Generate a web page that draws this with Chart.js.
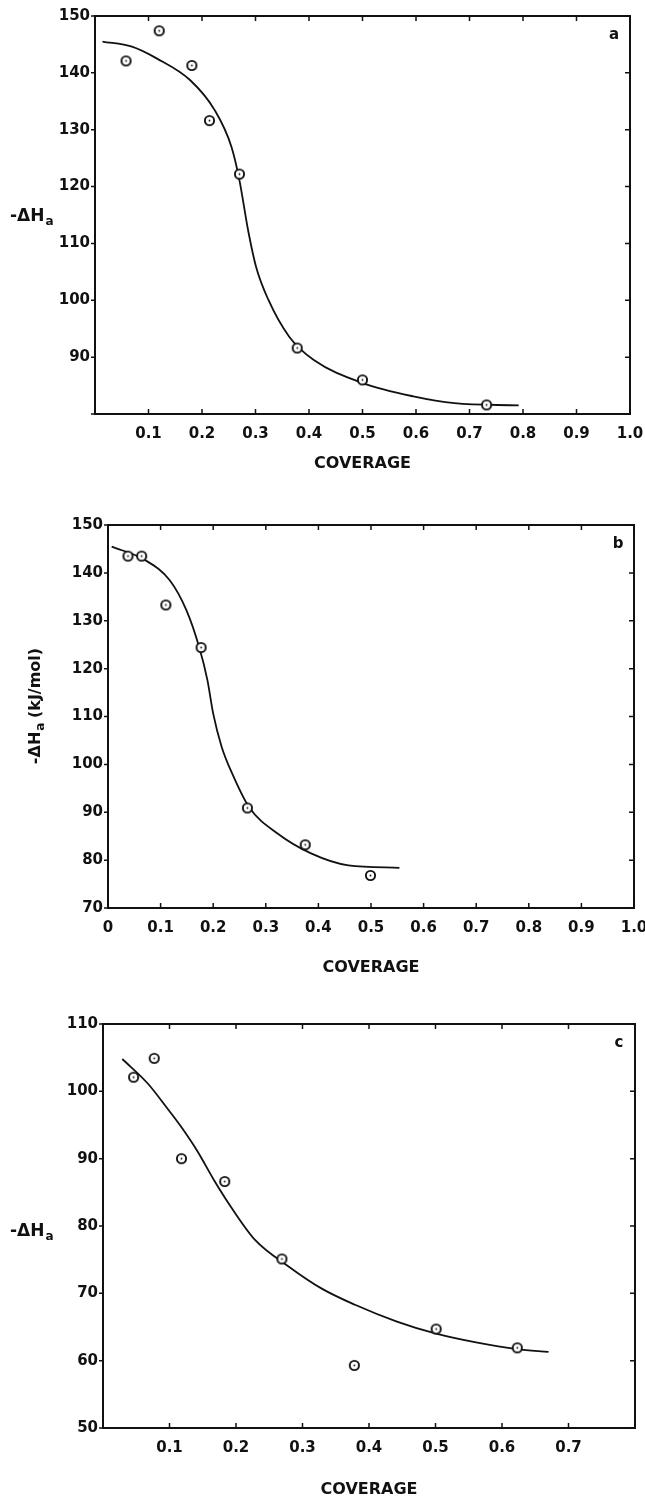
<!DOCTYPE html>
<html>
<head>
<meta charset="utf-8">
<script src="https://cdn.jsdelivr.net/npm/chart.js@4.4.0/dist/chart.umd.min.js"></script>
<style>
  body { margin: 0; background: #fff; }
  canvas { position: absolute; left: 0; }
</style>
</head>
<body>
<canvas id="chartA" width="645" height="480" style="top:0px"></canvas>
<canvas id="chartB" width="645" height="500" style="top:480px"></canvas>
<canvas id="chartC" width="645" height="521" style="top:980px"></canvas>
<script>
// panel a
const coverageA = [0.058, 0.120, 0.181, 0.214, 0.270, 0.378, 0.500, 0.732];
const enthalpyA = [142.1, 147.4, 141.3, 131.6, 122.2, 91.6, 86.0, 81.6];
const fitCoverageA = [0.014, 0.069, 0.116, 0.178, 0.224, 0.255, 0.270, 0.286, 0.301, 0.324, 0.363, 0.409, 0.502, 0.595, 0.672, 0.792];
const fitEnthalpyA = [145.5, 144.6, 142.5, 138.7, 133.4, 127.0, 121.1, 112.4, 105.9, 100.1, 93.6, 89.5, 85.4, 83.1, 81.9, 81.5];
const xLabelsA = ["", "0.1", "0.2", "0.3", "0.4", "0.5", "0.6", "0.7", "0.8", "0.9", "1.0"];
const yLabelsA = ["", "90", "100", "110", "120", "130", "140", "150"];

// panel b
const coverageB = [0.038, 0.064, 0.110, 0.177, 0.265, 0.375, 0.499];
const enthalpyB = [143.5, 143.5, 133.3, 124.4, 90.9, 83.2, 76.8];
const fitCoverageB = [0.007, 0.070, 0.117, 0.149, 0.173, 0.189, 0.200, 0.216, 0.236, 0.268, 0.323, 0.386, 0.457, 0.554];
const fitEnthalpyB = [145.5, 142.7, 138.5, 132.2, 124.6, 117.6, 110.6, 103.7, 98.1, 91.1, 85.5, 81.4, 78.9, 78.4];
const xLabelsB = ["0", "0.1", "0.2", "0.3", "0.4", "0.5", "0.6", "0.7", "0.8", "0.9", "1.0"];
const yLabelsB = ["70", "80", "90", "100", "110", "120", "130", "140", "150"];

// panel c
const coverageC = [0.046, 0.077, 0.118, 0.183, 0.269, 0.378, 0.501, 0.623];
const enthalpyC = [102.1, 104.9, 90.0, 86.6, 75.1, 59.3, 64.7, 61.9];
const fitCoverageC = [0.029, 0.067, 0.098, 0.117, 0.142, 0.167, 0.192, 0.229, 0.279, 0.329, 0.379, 0.442, 0.501, 0.561, 0.623, 0.670];
const fitEnthalpyC = [104.8, 101.2, 97.3, 94.8, 91.1, 86.8, 82.9, 77.9, 74.0, 70.7, 68.3, 65.8, 64.0, 62.7, 61.7, 61.3];
const xLabelsC = ["", "0.1", "0.2", "0.3", "0.4", "0.5", "0.6", "0.7", ""];
const yLabelsC = ["50", "60", "70", "80", "90", "100", "110"];

Chart.defaults.font.family = "'DejaVu Sans', sans-serif";
Chart.defaults.font.weight = "bold";
Chart.defaults.font.size = 15;
Chart.defaults.color = "#111";

// open circle with a dot in the middle
function makeMarker() {
  const c = document.createElement("canvas");
  c.width = 13; c.height = 13;
  const g = c.getContext("2d");
  g.fillStyle = "#fff";
  g.strokeStyle = "#111";
  g.lineWidth = 1.9;
  g.beginPath(); g.arc(6.5, 6.5, 4.6, 0, Math.PI * 2); g.fill(); g.stroke();
  g.fillStyle = "#111";
  g.beginPath(); g.arc(6.5, 6.5, 0.9, 0, Math.PI * 2); g.fill();
  return c;
}
const marker = makeMarker();

function toPoints(xs, ys) {
  return xs.map((x, i) => ({ x: x, y: ys[i] }));
}

// frame, inward ticks, axis titles and panel letter
const framePlugin = {
  id: "frame",
  afterDraw(chart, args, opts) {
    const ctx = chart.ctx;
    const a = chart.chartArea;
    const xs = chart.scales.x, ys = chart.scales.y;
    ctx.save();
    ctx.strokeStyle = "#111";
    ctx.lineWidth = 2;
    ctx.strokeRect(a.left, a.top, a.right - a.left, a.bottom - a.top);
    ctx.lineWidth = 1.5;
    ctx.beginPath();
    xs.ticks.forEach(t => {
      const px = xs.getPixelForValue(t.value);
      ctx.moveTo(px, a.bottom); ctx.lineTo(px, a.bottom - 5);
      ctx.moveTo(px, a.top); ctx.lineTo(px, a.top + 5);
    });
    ys.ticks.forEach(t => {
      const py = ys.getPixelForValue(t.value);
      ctx.moveTo(a.left, py); ctx.lineTo(a.left - 4, py);
      ctx.moveTo(a.right, py); ctx.lineTo(a.right - 5, py);
    });
    ctx.stroke();

    ctx.fillStyle = "#111";
    // panel letter
    ctx.font = "bold 15px 'DejaVu Sans'";
    ctx.textAlign = "center";
    ctx.textBaseline = "middle";
    ctx.fillText(opts.letter, a.right - 16, a.top + 19);

    // x title
    ctx.font = "bold 16px 'DejaVu Sans'";
    ctx.fillText("COVERAGE", (a.left + a.right) / 2, opts.xTitleY);

    // y title: -ΔH with subscript a
    ctx.save();
    ctx.translate(opts.yTitleX, opts.yTitleY);
    if (opts.rotate) ctx.rotate(-Math.PI / 2);
    ctx.textAlign = "left";
    ctx.textBaseline = "alphabetic";
    const main = "-\u0394H";
    const big = opts.rotate ? "bold 16px 'DejaVu Sans'" : "bold 17px 'DejaVu Sans'";
    const small = "bold 12px 'DejaVu Sans'";
    ctx.font = big;
    const w1 = ctx.measureText(main).width;
    ctx.font = small;
    const w2 = ctx.measureText("a").width;
    ctx.font = big;
    const w3 = opts.unit ? ctx.measureText(opts.unit).width : 0;
    const total = w1 + w2 + w3;
    const x0 = opts.rotate ? -total / 2 : 0;
    ctx.fillText(main, x0, 6);
    ctx.font = small;
    ctx.fillText("a", x0 + w1 + 1, 10);
    if (opts.unit) {
      ctx.font = big;
      ctx.fillText(opts.unit, x0 + w1 + w2, 6);
    }
    ctx.restore();
    ctx.restore();
  }
};

function makeChart(id, cfg) {
  const el = document.getElementById(id);
  return new Chart(el, {
    type: "scatter",
    data: {
      datasets: [
        {
          data: toPoints(cfg.xs, cfg.ys),
          pointStyle: marker,
          pointRadius: 6,
          showLine: false
        },
        {
          data: toPoints(cfg.fitX, cfg.fitY),
          showLine: true,
          pointRadius: 0,
          borderColor: "#111",
          borderWidth: 1.8,
          cubicInterpolationMode: "monotone"
        }
      ]
    },
    options: {
      responsive: false,
      animation: false,
      devicePixelRatio: 1,
      layout: { padding: { top: cfg.top, right: cfg.right, left: 0, bottom: 0 } },
      plugins: {
        legend: { display: false },
        tooltip: { enabled: false },
        frame: cfg.frame
      },
      scales: {
        x: {
          type: "linear",
          min: cfg.xMin, max: cfg.xMax,
          grid: { display: false, drawTicks: false },
          border: { display: false },
          ticks: {
            stepSize: 0.1,
            padding: 11,
            maxRotation: 0,
            autoSkip: false,
            callback: (v, i) => cfg.xLabels[i]
          },
          afterFit: s => {
            s.height = cfg.xHeight;
            s.paddingRight = 0;
            s.paddingLeft = 0;
          }
        },
        y: {
          type: "linear",
          min: cfg.yMin, max: cfg.yMax,
          grid: { display: false, drawTicks: false },
          border: { display: false },
          ticks: {
            stepSize: 10,
            padding: 5,
            autoSkip: false,
            callback: (v, i) => cfg.yLabels[i]
          },
          afterFit: s => { s.width = cfg.yWidth; }
        }
      }
    },
    plugins: [framePlugin]
  });
}

makeChart("chartA", {
  xs: coverageA, ys: enthalpyA, fitX: fitCoverageA, fitY: fitEnthalpyA,
  xLabels: xLabelsA, yLabels: yLabelsA,
  xMin: 0, xMax: 1.0, yMin: 80, yMax: 150,
  top: 16, right: 15, xHeight: 66, yWidth: 95,
  frame: { letter: "a", xTitleY: 464, yTitleX: 10, yTitleY: 215, rotate: false }
});

makeChart("chartB", {
  xs: coverageB, ys: enthalpyB, fitX: fitCoverageB, fitY: fitEnthalpyB,
  xLabels: xLabelsB, yLabels: yLabelsB,
  xMin: 0, xMax: 1.0, yMin: 70, yMax: 150,
  top: 45, right: 11, xHeight: 72, yWidth: 108,
  frame: { letter: "b", xTitleY: 488, yTitleX: 34, yTitleY: 226, rotate: true, unit: " (kJ/mol)" }
});

makeChart("chartC", {
  xs: coverageC, ys: enthalpyC, fitX: fitCoverageC, fitY: fitEnthalpyC,
  xLabels: xLabelsC, yLabels: yLabelsC,
  xMin: 0, xMax: 0.8, yMin: 50, yMax: 110,
  top: 44, right: 10, xHeight: 73, yWidth: 103,
  frame: { letter: "c", xTitleY: 510, yTitleX: 10, yTitleY: 250, rotate: false }
});
</script>
</body>
</html>
